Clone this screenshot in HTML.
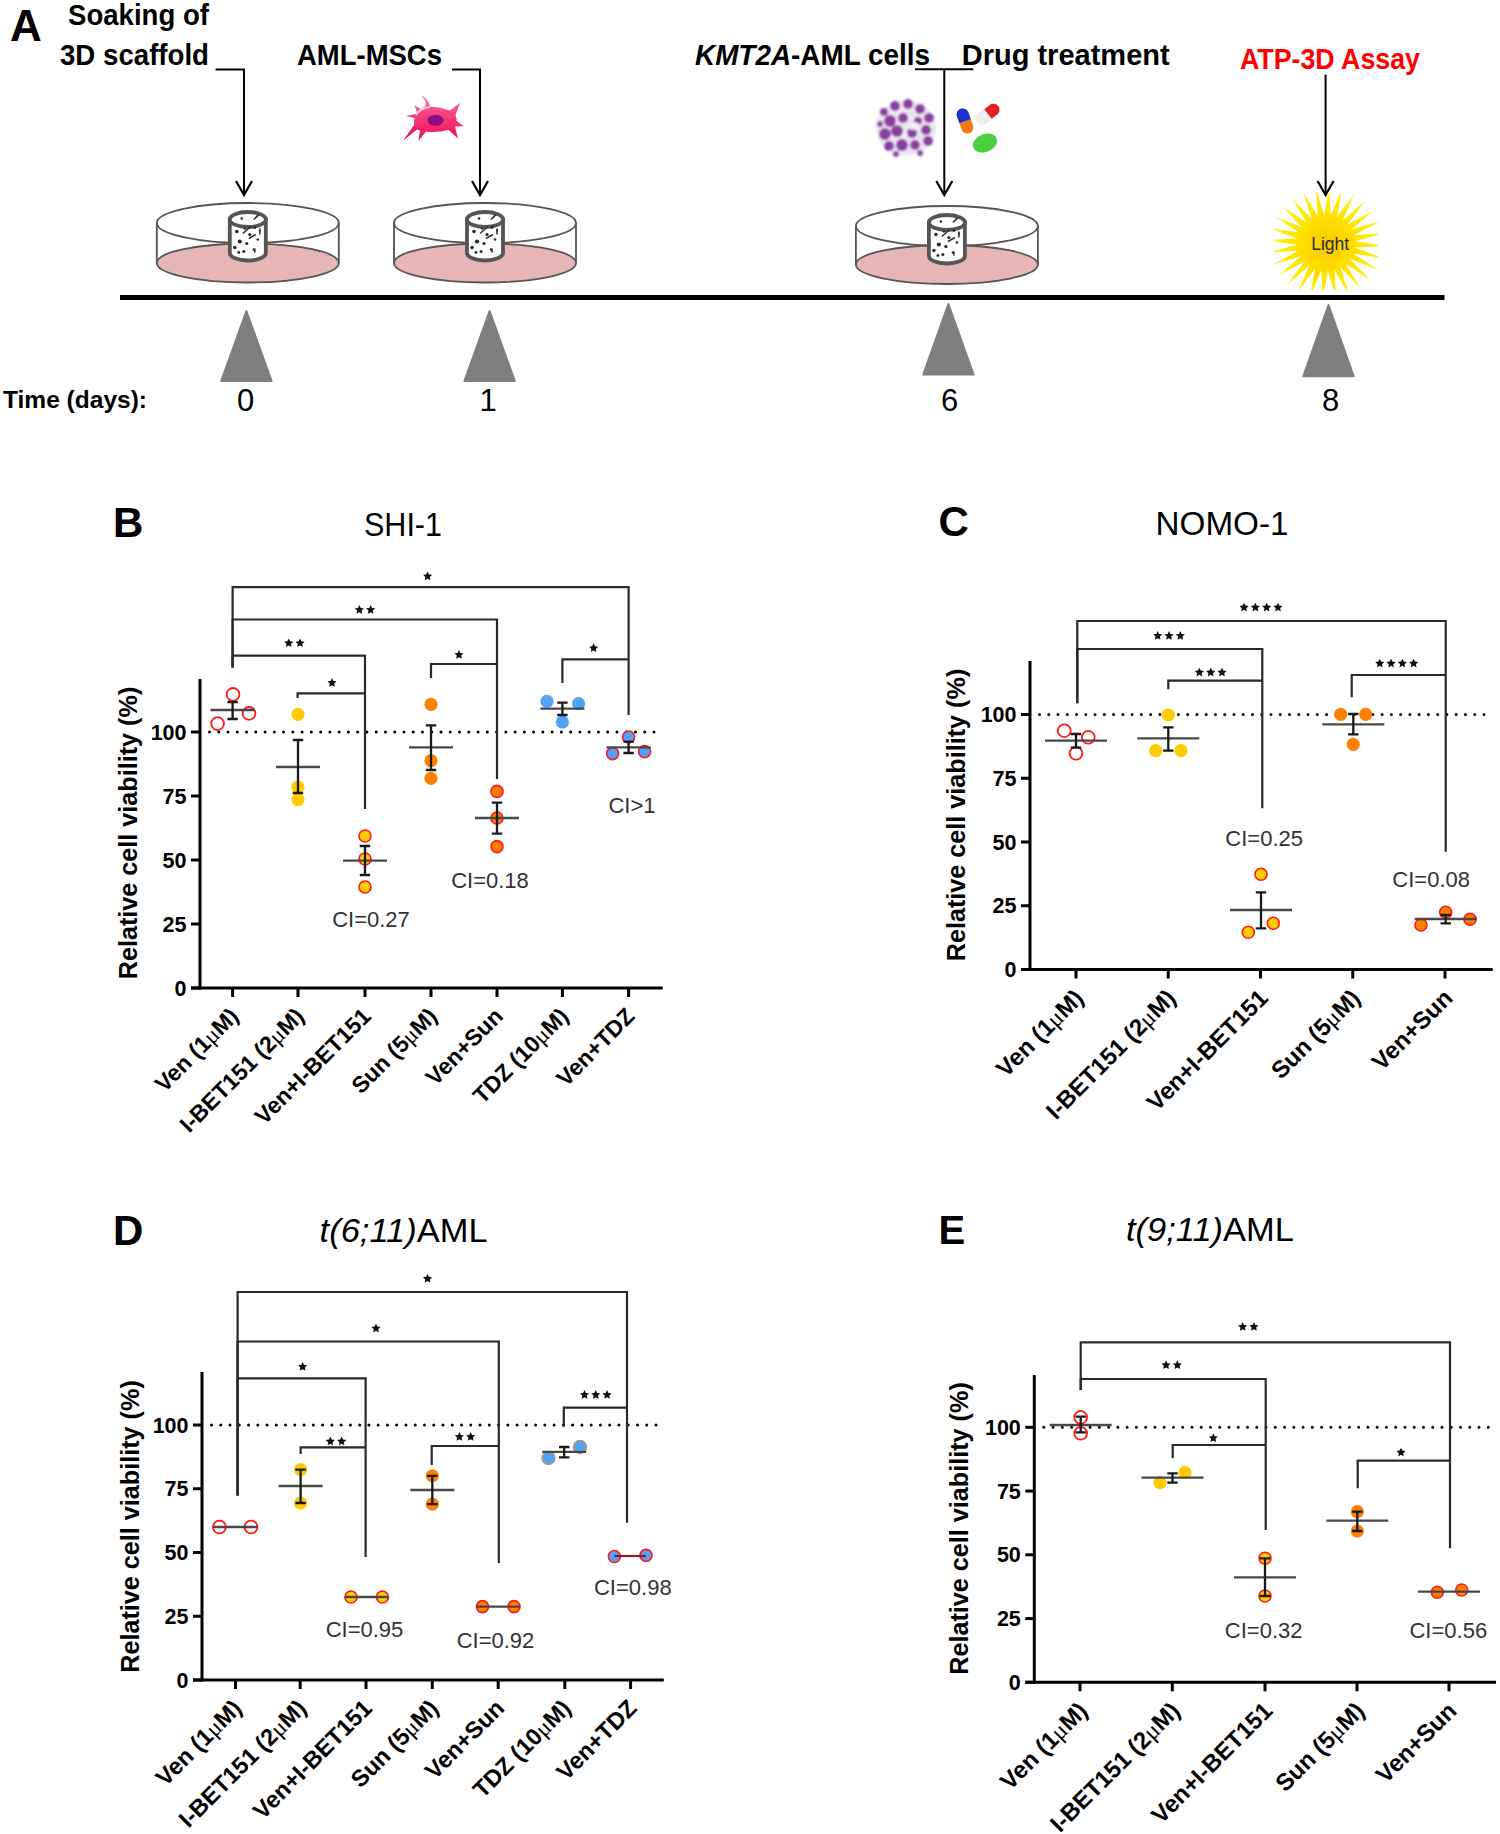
<!DOCTYPE html><html><head><meta charset="utf-8"><style>html,body{margin:0;padding:0;background:#fff;overflow:hidden;width:1500px;height:1834px;}svg{display:block;}</style></head><body>
<svg width="1500" height="1834" viewBox="0 0 1500 1834">
<rect width="1500" height="1834" fill="#fff"/>
<text x="10" y="41" font-family='"Liberation Sans", sans-serif' font-size="44" font-weight="bold" text-anchor="start" fill="#000"  style="">A</text>
<text x="68" y="25" font-family='"Liberation Sans", sans-serif' font-size="29" font-weight="bold" text-anchor="start" fill="#000" textLength="141" lengthAdjust="spacingAndGlyphs" style="">Soaking of</text>
<text x="60" y="65" font-family='"Liberation Sans", sans-serif' font-size="29" font-weight="bold" text-anchor="start" fill="#000" textLength="149" lengthAdjust="spacingAndGlyphs" style="">3D scaffold</text>
<text x="297" y="64.7" font-family='"Liberation Sans", sans-serif' font-size="29" font-weight="bold" text-anchor="start" fill="#000" textLength="145" lengthAdjust="spacingAndGlyphs" style="">AML-MSCs</text>
<text x="695" y="65" font-family='"Liberation Sans", sans-serif' font-size="29" font-weight="bold" textLength="235" lengthAdjust="spacingAndGlyphs"><tspan font-style="italic">KMT2A</tspan>-AML cells</text>
<text x="961.7" y="65" font-family='"Liberation Sans", sans-serif' font-size="29" font-weight="bold" text-anchor="start" fill="#000" textLength="208" lengthAdjust="spacingAndGlyphs" style="">Drug treatment</text>
<text x="1240" y="69.3" font-family='"Liberation Sans", sans-serif' font-size="29" font-weight="bold" text-anchor="start" fill="#ff0000" textLength="180" lengthAdjust="spacingAndGlyphs" style="">ATP-3D Assay</text>
<text x="3" y="408" font-family='"Liberation Sans", sans-serif' font-size="24" font-weight="bold" text-anchor="start" fill="#000" textLength="144" lengthAdjust="spacingAndGlyphs" style="">Time (days):</text>
<text x="245.5" y="411" font-family='"Liberation Sans", sans-serif' font-size="31" font-weight="normal" text-anchor="middle" fill="#000"  style="">0</text>
<text x="488" y="411" font-family='"Liberation Sans", sans-serif' font-size="31" font-weight="normal" text-anchor="middle" fill="#000"  style="">1</text>
<text x="949.5" y="411" font-family='"Liberation Sans", sans-serif' font-size="31" font-weight="normal" text-anchor="middle" fill="#000"  style="">6</text>
<text x="1330.5" y="411" font-family='"Liberation Sans", sans-serif' font-size="31" font-weight="normal" text-anchor="middle" fill="#000"  style="">8</text>
<path d="M215.6,69.5 H244 V194" fill="none" stroke="#000" stroke-width="2"/><path d="M236,181 L244,195 L252,181" fill="none" stroke="#000" stroke-width="2.2"/>
<path d="M452,69.4 H480 V194" fill="none" stroke="#000" stroke-width="2"/><path d="M472,181 L480,195 L488,181" fill="none" stroke="#000" stroke-width="2.2"/>
<path d="M915,69.3 H973.3 M944.3,69.3 V194" fill="none" stroke="#000" stroke-width="2"/><path d="M936.3,181 L944.3,195 L952.3,181" fill="none" stroke="#000" stroke-width="2.2"/>
<path d="M1325.6,74.6 V194" fill="none" stroke="#000" stroke-width="2"/><path d="M1317.6,181 L1325.6,195 L1333.6,181" fill="none" stroke="#000" stroke-width="2.2"/>
<rect x="120" y="295" width="1324.5" height="5" fill="#000"/>
<path d="M246.4,311 L271.6,381 L221.20000000000002,381 Z" fill="#7f7f7f" stroke="#7f7f7f" stroke-width="2" stroke-linejoin="round"/>
<path d="M489.6,311 L514.8000000000001,381 L464.40000000000003,381 Z" fill="#7f7f7f" stroke="#7f7f7f" stroke-width="2" stroke-linejoin="round"/>
<path d="M948.4,304 L973.6,374.5 L923.1999999999999,374.5 Z" fill="#7f7f7f" stroke="#7f7f7f" stroke-width="2" stroke-linejoin="round"/>
<path d="M1328.5,305 L1353.7,376.3 L1303.3,376.3 Z" fill="#7f7f7f" stroke="#7f7f7f" stroke-width="2" stroke-linejoin="round"/>
<ellipse cx="247.8" cy="263" rx="91" ry="19.5" fill="#e6b6b6" stroke="#555" stroke-width="1.8"/><path d="M156.8,223 V263 M338.8,223 V263" stroke="#555" stroke-width="1.8"/><ellipse cx="247.8" cy="223" rx="91" ry="20" fill="none" stroke="#555" stroke-width="1.8"/><path d="M229.8,219.5 V253.0 A18,7.5 0 0 0 265.8,253.0 V219.5 Z" fill="#fff" stroke="#555" stroke-width="3.8"/><ellipse cx="247.8" cy="219.5" rx="18" ry="7.5" fill="#fff" stroke="#555" stroke-width="3.8"/><circle cx="241.8" cy="218.5" r="1.3" fill="#2a2a2a"/><circle cx="256.8" cy="216.5" r="1" fill="#2a2a2a"/><circle cx="236.8" cy="231.5" r="1.8" fill="#2a2a2a"/><circle cx="244.8" cy="228.5" r="1.2" fill="#2a2a2a"/><circle cx="254.8" cy="227.5" r="1.4" fill="#2a2a2a"/><circle cx="239.8" cy="241.5" r="2.1" fill="#2a2a2a"/><circle cx="246.8" cy="243.5" r="1.6" fill="#2a2a2a"/><circle cx="257.8" cy="239.5" r="1.3" fill="#2a2a2a"/><circle cx="234.8" cy="247.5" r="1.8" fill="#2a2a2a"/><circle cx="243.8" cy="251.5" r="1.5" fill="#2a2a2a"/><circle cx="253.8" cy="249.5" r="1.2" fill="#2a2a2a"/><circle cx="249.8" cy="234.5" r="1.6" fill="#2a2a2a"/><circle cx="259.8" cy="230.5" r="1.1" fill="#2a2a2a"/><circle cx="238.8" cy="252.5" r="1.4" fill="#2a2a2a"/><path d="M242.8,233.5 l8,-7 M258.8,214.5 l-5,5 M248.8,238.5 l7,-4 M259.8,228.5 v6 M254.8,248.5 v4" stroke="#333" stroke-width="1.6"/>
<ellipse cx="485" cy="263" rx="91" ry="19.5" fill="#e6b6b6" stroke="#555" stroke-width="1.8"/><path d="M394,223 V263 M576,223 V263" stroke="#555" stroke-width="1.8"/><ellipse cx="485" cy="223" rx="91" ry="20" fill="none" stroke="#555" stroke-width="1.8"/><path d="M467,219.5 V253.0 A18,7.5 0 0 0 503,253.0 V219.5 Z" fill="#fff" stroke="#555" stroke-width="3.8"/><ellipse cx="485" cy="219.5" rx="18" ry="7.5" fill="#fff" stroke="#555" stroke-width="3.8"/><circle cx="479" cy="218.5" r="1.3" fill="#2a2a2a"/><circle cx="494" cy="216.5" r="1" fill="#2a2a2a"/><circle cx="474" cy="231.5" r="1.8" fill="#2a2a2a"/><circle cx="482" cy="228.5" r="1.2" fill="#2a2a2a"/><circle cx="492" cy="227.5" r="1.4" fill="#2a2a2a"/><circle cx="477" cy="241.5" r="2.1" fill="#2a2a2a"/><circle cx="484" cy="243.5" r="1.6" fill="#2a2a2a"/><circle cx="495" cy="239.5" r="1.3" fill="#2a2a2a"/><circle cx="472" cy="247.5" r="1.8" fill="#2a2a2a"/><circle cx="481" cy="251.5" r="1.5" fill="#2a2a2a"/><circle cx="491" cy="249.5" r="1.2" fill="#2a2a2a"/><circle cx="487" cy="234.5" r="1.6" fill="#2a2a2a"/><circle cx="497" cy="230.5" r="1.1" fill="#2a2a2a"/><circle cx="476" cy="252.5" r="1.4" fill="#2a2a2a"/><path d="M480,233.5 l8,-7 M496,214.5 l-5,5 M486,238.5 l7,-4 M497,228.5 v6 M492,248.5 v4" stroke="#333" stroke-width="1.6"/>
<ellipse cx="946.9" cy="264.5" rx="91" ry="19.5" fill="#e6b6b6" stroke="#555" stroke-width="1.8"/><path d="M855.9,226 V264.5 M1037.9,226 V264.5" stroke="#555" stroke-width="1.8"/><ellipse cx="946.9" cy="226" rx="91" ry="20" fill="none" stroke="#555" stroke-width="1.8"/><path d="M928.9,222.5 V256.0 A18,7.5 0 0 0 964.9,256.0 V222.5 Z" fill="#fff" stroke="#555" stroke-width="3.8"/><ellipse cx="946.9" cy="222.5" rx="18" ry="7.5" fill="#fff" stroke="#555" stroke-width="3.8"/><circle cx="940.9" cy="221.5" r="1.3" fill="#2a2a2a"/><circle cx="955.9" cy="219.5" r="1" fill="#2a2a2a"/><circle cx="935.9" cy="234.5" r="1.8" fill="#2a2a2a"/><circle cx="943.9" cy="231.5" r="1.2" fill="#2a2a2a"/><circle cx="953.9" cy="230.5" r="1.4" fill="#2a2a2a"/><circle cx="938.9" cy="244.5" r="2.1" fill="#2a2a2a"/><circle cx="945.9" cy="246.5" r="1.6" fill="#2a2a2a"/><circle cx="956.9" cy="242.5" r="1.3" fill="#2a2a2a"/><circle cx="933.9" cy="250.5" r="1.8" fill="#2a2a2a"/><circle cx="942.9" cy="254.5" r="1.5" fill="#2a2a2a"/><circle cx="952.9" cy="252.5" r="1.2" fill="#2a2a2a"/><circle cx="948.9" cy="237.5" r="1.6" fill="#2a2a2a"/><circle cx="958.9" cy="233.5" r="1.1" fill="#2a2a2a"/><circle cx="937.9" cy="255.5" r="1.4" fill="#2a2a2a"/><path d="M941.9,236.5 l8,-7 M957.9,217.5 l-5,5 M947.9,241.5 l7,-4 M958.9,231.5 v6 M953.9,251.5 v4" stroke="#333" stroke-width="1.6"/>
<defs><linearGradient id="cellg" x1="0" y1="0" x2="0" y2="1"><stop offset="0" stop-color="#ff6aa0"/><stop offset="1" stop-color="#ee0a55"/></linearGradient><filter id="blur0"><feGaussianBlur stdDeviation="0.5"/></filter></defs>
<g filter="url(#blur0)"><path d="M417,112 L414.5,105 L421,109.5 Q425,106 426,105 Q426,99 420,95 Q428,98 430,106.5 Q440,107 450,110.5 L460,102.8 L455.5,115 Q457,119 456.5,121 L464,126.3 L455,126.5 L458,138.5 L448.5,130 Q436,133 426,131.5 L418.5,140.7 L420,130.5 L417,129.5 L403,140.7 L414,125 Q414,120 414.5,118 L406.2,116 L415.5,114 Z" fill="url(#cellg)"/><ellipse cx="435.5" cy="120.3" rx="8" ry="5.6" fill="#8e0a86"/><path d="M416,115 Q420,108 430,107" stroke="#ffd0e4" stroke-width="2" fill="none"/></g>
<defs><filter id="blur1"><feGaussianBlur stdDeviation="1.1"/></filter><radialGradient id="sun" cx="50%" cy="50%" r="50%"><stop offset="0" stop-color="#f5c400"/><stop offset="0.5" stop-color="#ffe000"/><stop offset="1" stop-color="#fff200"/></radialGradient></defs>
<g filter="url(#blur1)"><ellipse cx="906" cy="128" rx="30" ry="28" fill="#ece4f2"/><circle cx="884" cy="112" r="4" fill="#7e3399" fill-opacity="0.92"/><circle cx="895" cy="106" r="5" fill="#7e3399" fill-opacity="0.92"/><circle cx="908" cy="104" r="5" fill="#7e3399" fill-opacity="0.92"/><circle cx="920" cy="109" r="5" fill="#7e3399" fill-opacity="0.92"/><circle cx="929" cy="118" r="5" fill="#7e3399" fill-opacity="0.92"/><circle cx="890" cy="121" r="6" fill="#7e3399" fill-opacity="0.92"/><circle cx="903" cy="118" r="5" fill="#7e3399" fill-opacity="0.92"/><circle cx="918" cy="121" r="4" fill="#7e3399" fill-opacity="0.92"/><circle cx="885" cy="134" r="6" fill="#7e3399" fill-opacity="0.92"/><circle cx="897" cy="131" r="6" fill="#7e3399" fill-opacity="0.92"/><circle cx="912" cy="133" r="5" fill="#7e3399" fill-opacity="0.92"/><circle cx="926" cy="130" r="5" fill="#7e3399" fill-opacity="0.92"/><circle cx="889" cy="146" r="5" fill="#7e3399" fill-opacity="0.92"/><circle cx="902" cy="145" r="6" fill="#7e3399" fill-opacity="0.92"/><circle cx="915" cy="145" r="5" fill="#7e3399" fill-opacity="0.92"/><circle cx="928" cy="141" r="5" fill="#7e3399" fill-opacity="0.92"/><circle cx="896" cy="154" r="3" fill="#7e3399" fill-opacity="0.92"/><circle cx="920" cy="153" r="3" fill="#7e3399" fill-opacity="0.92"/><circle cx="880" cy="124" r="3" fill="#7e3399" fill-opacity="0.92"/><ellipse cx="914" cy="126" rx="6" ry="4" fill="#f2ecf6"/><circle cx="905" cy="135" r="2.5" fill="#f2ecf6"/></g>
<g transform="translate(965,121) rotate(-20)"><rect x="-6" y="-13" width="12" height="26" rx="6" fill="#f07820"/><path d="M-6,0 V-7 A6,6 0 0 1 6,-7 V0 Z" fill="#1a30d0"/></g>
<g transform="translate(988,114) rotate(52)"><rect x="-6" y="-13" width="12" height="26" rx="6" fill="#eeeeee" stroke="#ddd" stroke-width="0.5"/><path d="M-6,0 V-7 A6,6 0 0 1 6,-7 V0 Z" fill="#e02020"/></g>
<ellipse cx="985" cy="143" rx="12.5" ry="9" transform="rotate(-22 985 143)" fill="#4cd040"/>
<defs><clipPath id="sunclip"><rect x="1273" y="192" width="105" height="98"/></clipPath><radialGradient id="sun2" gradientUnits="userSpaceOnUse" cx="1328" cy="245" r="62"><stop offset="0" stop-color="#f8c800"/><stop offset="0.45" stop-color="#ffe000"/><stop offset="0.75" stop-color="#ffee00"/><stop offset="1" stop-color="#fff9c0"/></radialGradient></defs>
<g clip-path="url(#sunclip)"><polygon points="1385.9,245.8 1354.6,247.4 1383.8,258.4 1352.9,253.4 1378.7,270.3 1349.8,258.8 1371.0,280.7 1345.5,263.4 1361.0,289.3 1340.2,267.0 1349.3,295.5 1334.2,269.4 1336.4,299.1 1327.8,270.5 1323.0,299.9 1321.3,270.2 1309.7,297.9 1315.1,268.5 1297.3,293.1 1309.4,265.6 1286.3,285.7 1304.5,261.5 1277.3,276.3 1300.7,256.5 1270.7,265.1 1298.2,250.8 1266.9,252.9 1297.1,244.7 1266.1,240.2 1297.4,238.6 1268.2,227.6 1299.1,232.6 1273.3,215.7 1302.2,227.2 1281.0,205.3 1306.5,222.6 1291.0,196.7 1311.8,219.0 1302.7,190.5 1317.8,216.6 1315.6,186.9 1324.2,215.5 1329.0,186.1 1330.7,215.8 1342.3,188.1 1336.9,217.5 1354.7,192.9 1342.6,220.4 1365.7,200.3 1347.5,224.5 1374.7,209.7 1351.3,229.5 1381.3,220.9 1353.8,235.2 1385.1,233.1 1354.9,241.3" fill="url(#sun2)"/></g>
<text x="1311.2" y="250.2" font-family='"Liberation Sans", sans-serif' font-size="17.5" font-weight="normal" text-anchor="start" fill="#2a2a35" textLength="38" lengthAdjust="spacingAndGlyphs" style="">Light</text>
<text x="113" y="537" font-family='"Liberation Sans", sans-serif' font-size="42" font-weight="bold" text-anchor="start" fill="#000"  style="">B</text>
<text x="403" y="535.6" font-family='"Liberation Sans", sans-serif' font-size="33" font-weight="normal" text-anchor="middle" fill="#000" textLength="78" lengthAdjust="spacingAndGlyphs" style="">SHI-1</text>
<line x1="200" y1="679" x2="200" y2="989.5" stroke="#000" stroke-width="3"/><line x1="191" y1="988" x2="662.7" y2="988" stroke="#000" stroke-width="3"/><line x1="191" y1="988.0" x2="200" y2="988.0" stroke="#000" stroke-width="3"/><text x="186.5" y="995.6" font-family='"Liberation Sans", sans-serif' font-size="21.5" font-weight="bold" text-anchor="end" fill="#000"  style="">0</text><line x1="191" y1="924.0" x2="200" y2="924.0" stroke="#000" stroke-width="3"/><text x="186.5" y="931.6" font-family='"Liberation Sans", sans-serif' font-size="21.5" font-weight="bold" text-anchor="end" fill="#000"  style="">25</text><line x1="191" y1="860.0" x2="200" y2="860.0" stroke="#000" stroke-width="3"/><text x="186.5" y="867.6" font-family='"Liberation Sans", sans-serif' font-size="21.5" font-weight="bold" text-anchor="end" fill="#000"  style="">50</text><line x1="191" y1="796.0" x2="200" y2="796.0" stroke="#000" stroke-width="3"/><text x="186.5" y="803.6" font-family='"Liberation Sans", sans-serif' font-size="21.5" font-weight="bold" text-anchor="end" fill="#000"  style="">75</text><line x1="191" y1="732.0" x2="200" y2="732.0" stroke="#000" stroke-width="3"/><text x="186.5" y="739.6" font-family='"Liberation Sans", sans-serif' font-size="21.5" font-weight="bold" text-anchor="end" fill="#000"  style="">100</text><line x1="232.6" y1="988" x2="232.6" y2="997" stroke="#000" stroke-width="3"/><line x1="298" y1="988" x2="298" y2="997" stroke="#000" stroke-width="3"/><line x1="365" y1="988" x2="365" y2="997" stroke="#000" stroke-width="3"/><line x1="431" y1="988" x2="431" y2="997" stroke="#000" stroke-width="3"/><line x1="497" y1="988" x2="497" y2="997" stroke="#000" stroke-width="3"/><line x1="562.4" y1="988" x2="562.4" y2="997" stroke="#000" stroke-width="3"/><line x1="628.6" y1="988" x2="628.6" y2="997" stroke="#000" stroke-width="3"/><line x1="209.5" y1="732.0" x2="656" y2="732.0" stroke="#000" stroke-width="3" stroke-linecap="round" stroke-dasharray="0 9.26"/><text transform="translate(136.5,833) rotate(-90)" font-family='"Liberation Sans", sans-serif' font-size="25.2" font-weight="bold" text-anchor="middle">Relative cell viability (%)</text><text transform="translate(240.0,1017.6) rotate(-45)" font-family='"Liberation Sans", sans-serif' font-size="23" font-weight="bold" text-anchor="end">Ven (1<tspan font-weight="normal" font-family='"Liberation Serif", serif'>&#956;</tspan>M)</text><text transform="translate(305.4,1017.6) rotate(-45)" font-family='"Liberation Sans", sans-serif' font-size="23" font-weight="bold" text-anchor="end">I-BET151 (2<tspan font-weight="normal" font-family='"Liberation Serif", serif'>&#956;</tspan>M)</text><text transform="translate(372.4,1017.6) rotate(-45)" font-family='"Liberation Sans", sans-serif' font-size="23" font-weight="bold" text-anchor="end">Ven+I-BET151</text><text transform="translate(438.4,1017.6) rotate(-45)" font-family='"Liberation Sans", sans-serif' font-size="23" font-weight="bold" text-anchor="end">Sun (5<tspan font-weight="normal" font-family='"Liberation Serif", serif'>&#956;</tspan>M)</text><text transform="translate(504.4,1017.6) rotate(-45)" font-family='"Liberation Sans", sans-serif' font-size="23" font-weight="bold" text-anchor="end">Ven+Sun</text><text transform="translate(569.8,1017.6) rotate(-45)" font-family='"Liberation Sans", sans-serif' font-size="23" font-weight="bold" text-anchor="end">TDZ (10<tspan font-weight="normal" font-family='"Liberation Serif", serif'>&#956;</tspan>M)</text><text transform="translate(636.0,1017.6) rotate(-45)" font-family='"Liberation Sans", sans-serif' font-size="23" font-weight="bold" text-anchor="end">Ven+TDZ</text>
<path d="M232.6,667.6 V587.2 H628.6 V715" fill="none" stroke="#2a2a2a" stroke-width="2.2"/><polygon points="427.60,571.50 428.98,574.40 432.17,574.82 429.83,577.03 430.42,580.18 427.60,578.65 424.78,580.18 425.37,577.03 423.03,574.82 426.22,574.40" fill="#111"/>
<path d="M232.6,667.6 V619.5 H497 V779" fill="none" stroke="#2a2a2a" stroke-width="2.2"/><polygon points="359.35,605.00 360.73,607.90 363.92,608.32 361.58,610.53 362.17,613.68 359.35,612.15 356.53,613.68 357.12,610.53 354.78,608.32 357.97,607.90" fill="#111"/><polygon points="370.65,605.00 372.03,607.90 375.22,608.32 372.88,610.53 373.47,613.68 370.65,612.15 367.83,613.68 368.42,610.53 366.08,608.32 369.27,607.90" fill="#111"/>
<path d="M232.6,667.6 V655.6 H365 V809" fill="none" stroke="#2a2a2a" stroke-width="2.2"/><polygon points="288.75,638.40 290.13,641.30 293.32,641.72 290.98,643.93 291.57,647.08 288.75,645.55 285.93,647.08 286.52,643.93 284.18,641.72 287.37,641.30" fill="#111"/><polygon points="300.05,638.40 301.43,641.30 304.62,641.72 302.28,643.93 302.87,647.08 300.05,645.55 297.23,647.08 297.82,643.93 295.48,641.72 298.67,641.30" fill="#111"/>
<path d="M297.6,698 V693.3 H365 V693.3" fill="none" stroke="#2a2a2a" stroke-width="2.2"/><polygon points="332.00,678.00 333.38,680.90 336.57,681.32 334.23,683.53 334.82,686.68 332.00,685.15 329.18,686.68 329.77,683.53 327.43,681.32 330.62,680.90" fill="#111"/>
<path d="M431,678 V664 H497 V664" fill="none" stroke="#2a2a2a" stroke-width="2.2"/><polygon points="459.00,650.00 460.38,652.90 463.57,653.32 461.23,655.53 461.82,658.68 459.00,657.15 456.18,658.68 456.77,655.53 454.43,653.32 457.62,652.90" fill="#111"/>
<path d="M562.4,683 V659.4 H628.6 V659.4" fill="none" stroke="#2a2a2a" stroke-width="2.2"/><polygon points="593.60,643.40 594.98,646.30 598.17,646.72 595.83,648.93 596.42,652.08 593.60,650.55 590.78,652.08 591.37,648.93 589.03,646.72 592.22,646.30" fill="#111"/>
<circle cx="217.6" cy="723.6" r="6.4" fill="none" stroke="#ff1a1a" stroke-width="1.8"/>
<circle cx="233" cy="694.4" r="6.4" fill="none" stroke="#ff1a1a" stroke-width="1.8"/>
<circle cx="249" cy="713.4" r="6.4" fill="none" stroke="#ff1a1a" stroke-width="1.8"/>
<line x1="210.6" y1="710" x2="254.6" y2="710" stroke="#484848" stroke-width="2.3"/><path d="M232.6,702 V719 M227.4,702 H237.79999999999998 M227.4,719 H237.79999999999998" fill="none" stroke="#1a1a1a" stroke-width="2.3"/>
<circle cx="298" cy="714.4" r="6.6" fill="#ffcc00"/>
<circle cx="298" cy="787" r="6.6" fill="#ffcc00"/>
<circle cx="298" cy="799.6" r="6.6" fill="#ffcc00"/>
<line x1="276.0" y1="767" x2="320.0" y2="767" stroke="#484848" stroke-width="2.3"/><path d="M298,740 V793 M292.8,740 H303.2 M292.8,793 H303.2" fill="none" stroke="#1a1a1a" stroke-width="2.3"/>
<circle cx="365" cy="836" r="6" fill="#ffcc00" stroke="#ff1a1a" stroke-width="1.6"/>
<circle cx="365" cy="859" r="6" fill="#ffcc00" stroke="#ff1a1a" stroke-width="1.6"/>
<circle cx="365" cy="887" r="6" fill="#ffcc00" stroke="#ff1a1a" stroke-width="1.6"/>
<line x1="343.0" y1="860.6" x2="387.0" y2="860.6" stroke="#484848" stroke-width="2.3"/><path d="M365,846 V875 M359.8,846 H370.2 M359.8,875 H370.2" fill="none" stroke="#1a1a1a" stroke-width="2.3"/>
<circle cx="431" cy="704.4" r="6.6" fill="#ff8000"/>
<circle cx="431" cy="760.6" r="6.6" fill="#ff8000"/>
<circle cx="431" cy="778.4" r="6.6" fill="#ff8000"/>
<line x1="409.0" y1="747.4" x2="453.0" y2="747.4" stroke="#484848" stroke-width="2.3"/><path d="M431,725.4 V770 M425.8,725.4 H436.2 M425.8,770 H436.2" fill="none" stroke="#1a1a1a" stroke-width="2.3"/>
<circle cx="497" cy="791.4" r="6" fill="#ff8000" stroke="#ff1a1a" stroke-width="1.6"/>
<circle cx="497" cy="818" r="6" fill="#ff8000" stroke="#ff1a1a" stroke-width="1.6"/>
<circle cx="497" cy="846.6" r="6" fill="#ff8000" stroke="#ff1a1a" stroke-width="1.6"/>
<line x1="475.0" y1="818" x2="519.0" y2="818" stroke="#484848" stroke-width="2.3"/><path d="M497,802.6 V833.6 M491.8,802.6 H502.2 M491.8,833.6 H502.2" fill="none" stroke="#1a1a1a" stroke-width="2.3"/>
<circle cx="547" cy="701.4" r="6.6" fill="#54a2f8"/>
<circle cx="578.6" cy="703.6" r="6.6" fill="#54a2f8"/>
<circle cx="562.4" cy="722" r="6.6" fill="#54a2f8"/>
<line x1="540.4" y1="708.6" x2="584.4" y2="708.6" stroke="#484848" stroke-width="2.3"/><path d="M562.4,702.6 V715 M557.1999999999999,702.6 H567.6 M557.1999999999999,715 H567.6" fill="none" stroke="#1a1a1a" stroke-width="2.3"/>
<circle cx="628.6" cy="737" r="6" fill="#54a2f8" stroke="#ff1a1a" stroke-width="1.6"/>
<circle cx="612.6" cy="753.6" r="6" fill="#54a2f8" stroke="#ff1a1a" stroke-width="1.6"/>
<circle cx="644.6" cy="751.6" r="6" fill="#54a2f8" stroke="#ff1a1a" stroke-width="1.6"/>
<line x1="606.6" y1="747.4" x2="650.6" y2="747.4" stroke="#484848" stroke-width="2.3"/><path d="M628.6,741.6 V753 M623.4,741.6 H633.8000000000001 M623.4,753 H633.8000000000001" fill="none" stroke="#1a1a1a" stroke-width="2.3"/>
<text x="371" y="927" font-family='"Liberation Sans", sans-serif' font-size="22" font-weight="normal" text-anchor="middle" fill="#333"  style="">CI=0.27</text>
<text x="490" y="888" font-family='"Liberation Sans", sans-serif' font-size="22" font-weight="normal" text-anchor="middle" fill="#333"  style="">CI=0.18</text>
<text x="632" y="813" font-family='"Liberation Sans", sans-serif' font-size="22" font-weight="normal" text-anchor="middle" fill="#333"  style="">CI&gt;1</text>
<text x="938.5" y="536.4" font-family='"Liberation Sans", sans-serif' font-size="42" font-weight="bold" text-anchor="start" fill="#000"  style="">C</text>
<text x="1222" y="535" font-family='"Liberation Sans", sans-serif' font-size="33" font-weight="normal" text-anchor="middle" fill="#000" textLength="133" lengthAdjust="spacingAndGlyphs" style="">NOMO-1</text>
<line x1="1030" y1="661" x2="1030" y2="971.0" stroke="#000" stroke-width="3"/><line x1="1021" y1="969.5" x2="1492.7" y2="969.5" stroke="#000" stroke-width="3"/><line x1="1021" y1="969.5" x2="1030" y2="969.5" stroke="#000" stroke-width="3"/><text x="1016.5" y="977.1" font-family='"Liberation Sans", sans-serif' font-size="21.5" font-weight="bold" text-anchor="end" fill="#000"  style="">0</text><line x1="1021" y1="905.75" x2="1030" y2="905.75" stroke="#000" stroke-width="3"/><text x="1016.5" y="913.35" font-family='"Liberation Sans", sans-serif' font-size="21.5" font-weight="bold" text-anchor="end" fill="#000"  style="">25</text><line x1="1021" y1="842.0" x2="1030" y2="842.0" stroke="#000" stroke-width="3"/><text x="1016.5" y="849.6" font-family='"Liberation Sans", sans-serif' font-size="21.5" font-weight="bold" text-anchor="end" fill="#000"  style="">50</text><line x1="1021" y1="778.25" x2="1030" y2="778.25" stroke="#000" stroke-width="3"/><text x="1016.5" y="785.85" font-family='"Liberation Sans", sans-serif' font-size="21.5" font-weight="bold" text-anchor="end" fill="#000"  style="">75</text><line x1="1021" y1="714.5" x2="1030" y2="714.5" stroke="#000" stroke-width="3"/><text x="1016.5" y="722.1" font-family='"Liberation Sans", sans-serif' font-size="21.5" font-weight="bold" text-anchor="end" fill="#000"  style="">100</text><line x1="1076" y1="969.5" x2="1076" y2="978.5" stroke="#000" stroke-width="3"/><line x1="1168.25" y1="969.5" x2="1168.25" y2="978.5" stroke="#000" stroke-width="3"/><line x1="1260.5" y1="969.5" x2="1260.5" y2="978.5" stroke="#000" stroke-width="3"/><line x1="1352.75" y1="969.5" x2="1352.75" y2="978.5" stroke="#000" stroke-width="3"/><line x1="1445" y1="969.5" x2="1445" y2="978.5" stroke="#000" stroke-width="3"/><line x1="1039.5" y1="714.5" x2="1486" y2="714.5" stroke="#000" stroke-width="3" stroke-linecap="round" stroke-dasharray="0 9.26"/><text transform="translate(964.5,815) rotate(-90)" font-family='"Liberation Sans", sans-serif' font-size="25.2" font-weight="bold" text-anchor="middle">Relative cell viability (%)</text><text transform="translate(1085,999.5) rotate(-45)" font-family='"Liberation Sans", sans-serif' font-size="24" font-weight="bold" text-anchor="end">Ven (1<tspan font-weight="normal" font-family='"Liberation Serif", serif'>&#956;</tspan>M)</text><text transform="translate(1177.25,999.5) rotate(-45)" font-family='"Liberation Sans", sans-serif' font-size="24" font-weight="bold" text-anchor="end">I-BET151 (2<tspan font-weight="normal" font-family='"Liberation Serif", serif'>&#956;</tspan>M)</text><text transform="translate(1269.5,999.5) rotate(-45)" font-family='"Liberation Sans", sans-serif' font-size="24" font-weight="bold" text-anchor="end">Ven+I-BET151</text><text transform="translate(1361.75,999.5) rotate(-45)" font-family='"Liberation Sans", sans-serif' font-size="24" font-weight="bold" text-anchor="end">Sun (5<tspan font-weight="normal" font-family='"Liberation Serif", serif'>&#956;</tspan>M)</text><text transform="translate(1454,999.5) rotate(-45)" font-family='"Liberation Sans", sans-serif' font-size="24" font-weight="bold" text-anchor="end">Ven+Sun</text>
<path d="M1077.3,703.3 V621 H1445.7 V851.7" fill="none" stroke="#2a2a2a" stroke-width="2.2"/><polygon points="1244.05,602.70 1245.43,605.60 1248.62,606.02 1246.28,608.23 1246.87,611.38 1244.05,609.85 1241.23,611.38 1241.82,608.23 1239.48,606.02 1242.67,605.60" fill="#111"/><polygon points="1255.35,602.70 1256.73,605.60 1259.92,606.02 1257.58,608.23 1258.17,611.38 1255.35,609.85 1252.53,611.38 1253.12,608.23 1250.78,606.02 1253.97,605.60" fill="#111"/><polygon points="1266.65,602.70 1268.03,605.60 1271.22,606.02 1268.88,608.23 1269.47,611.38 1266.65,609.85 1263.83,611.38 1264.42,608.23 1262.08,606.02 1265.27,605.60" fill="#111"/><polygon points="1277.95,602.70 1279.33,605.60 1282.52,606.02 1280.18,608.23 1280.77,611.38 1277.95,609.85 1275.13,611.38 1275.72,608.23 1273.38,606.02 1276.57,605.60" fill="#111"/>
<path d="M1077.3,703.3 V649 H1262.3 V808.3" fill="none" stroke="#2a2a2a" stroke-width="2.2"/><polygon points="1157.70,631.00 1159.08,633.90 1162.27,634.32 1159.93,636.53 1160.52,639.68 1157.70,638.15 1154.88,639.68 1155.47,636.53 1153.13,634.32 1156.32,633.90" fill="#111"/><polygon points="1169.00,631.00 1170.38,633.90 1173.57,634.32 1171.23,636.53 1171.82,639.68 1169.00,638.15 1166.18,639.68 1166.77,636.53 1164.43,634.32 1167.62,633.90" fill="#111"/><polygon points="1180.30,631.00 1181.68,633.90 1184.87,634.32 1182.53,636.53 1183.12,639.68 1180.30,638.15 1177.48,639.68 1178.07,636.53 1175.73,634.32 1178.92,633.90" fill="#111"/>
<path d="M1168.3,689.3 V680.7 H1262.3 V680.7" fill="none" stroke="#2a2a2a" stroke-width="2.2"/><polygon points="1199.40,667.70 1200.78,670.60 1203.97,671.02 1201.63,673.23 1202.22,676.38 1199.40,674.85 1196.58,676.38 1197.17,673.23 1194.83,671.02 1198.02,670.60" fill="#111"/><polygon points="1210.70,667.70 1212.08,670.60 1215.27,671.02 1212.93,673.23 1213.52,676.38 1210.70,674.85 1207.88,676.38 1208.47,673.23 1206.13,671.02 1209.32,670.60" fill="#111"/><polygon points="1222.00,667.70 1223.38,670.60 1226.57,671.02 1224.23,673.23 1224.82,676.38 1222.00,674.85 1219.18,676.38 1219.77,673.23 1217.43,671.02 1220.62,670.60" fill="#111"/>
<path d="M1351.7,697.3 V675 H1445.7 V675" fill="none" stroke="#2a2a2a" stroke-width="2.2"/><polygon points="1379.75,658.70 1381.13,661.60 1384.32,662.02 1381.98,664.23 1382.57,667.38 1379.75,665.85 1376.93,667.38 1377.52,664.23 1375.18,662.02 1378.37,661.60" fill="#111"/><polygon points="1391.05,658.70 1392.43,661.60 1395.62,662.02 1393.28,664.23 1393.87,667.38 1391.05,665.85 1388.23,667.38 1388.82,664.23 1386.48,662.02 1389.67,661.60" fill="#111"/><polygon points="1402.35,658.70 1403.73,661.60 1406.92,662.02 1404.58,664.23 1405.17,667.38 1402.35,665.85 1399.53,667.38 1400.12,664.23 1397.78,662.02 1400.97,661.60" fill="#111"/><polygon points="1413.65,658.70 1415.03,661.60 1418.22,662.02 1415.88,664.23 1416.47,667.38 1413.65,665.85 1410.83,667.38 1411.42,664.23 1409.08,662.02 1412.27,661.60" fill="#111"/>
<circle cx="1064.3" cy="730.7" r="6.4" fill="none" stroke="#ff1a1a" stroke-width="1.8"/>
<circle cx="1088.3" cy="737.3" r="6.4" fill="none" stroke="#ff1a1a" stroke-width="1.8"/>
<circle cx="1076" cy="753.3" r="6.4" fill="none" stroke="#ff1a1a" stroke-width="1.8"/>
<line x1="1045.0" y1="740.7" x2="1107.0" y2="740.7" stroke="#484848" stroke-width="2.3"/><path d="M1076,734 V747.7 M1070.8,734 H1081.2 M1070.8,747.7 H1081.2" fill="none" stroke="#1a1a1a" stroke-width="2.3"/>
<circle cx="1168.3" cy="715" r="6.6" fill="#ffcc00"/>
<circle cx="1155.7" cy="750.7" r="6.6" fill="#ffcc00"/>
<circle cx="1181" cy="750.7" r="6.6" fill="#ffcc00"/>
<line x1="1137.3" y1="738.3" x2="1199.3" y2="738.3" stroke="#484848" stroke-width="2.3"/><path d="M1168.3,727.3 V750.7 M1163.1,727.3 H1173.5 M1163.1,750.7 H1173.5" fill="none" stroke="#1a1a1a" stroke-width="2.3"/>
<circle cx="1261" cy="874.3" r="6" fill="#ffcc00" stroke="#ff1a1a" stroke-width="1.6"/>
<circle cx="1248.3" cy="932.3" r="6" fill="#ffcc00" stroke="#ff1a1a" stroke-width="1.6"/>
<circle cx="1273.3" cy="923.3" r="6" fill="#ffcc00" stroke="#ff1a1a" stroke-width="1.6"/>
<line x1="1230.0" y1="910" x2="1292.0" y2="910" stroke="#484848" stroke-width="2.3"/><path d="M1261,892.3 V928.3 M1255.8,892.3 H1266.2 M1255.8,928.3 H1266.2" fill="none" stroke="#1a1a1a" stroke-width="2.3"/>
<circle cx="1340.7" cy="714.3" r="6.6" fill="#ff8000"/>
<circle cx="1365.7" cy="714.3" r="6.6" fill="#ff8000"/>
<circle cx="1353.3" cy="744.3" r="6.6" fill="#ff8000"/>
<line x1="1322.3" y1="724.3" x2="1384.3" y2="724.3" stroke="#484848" stroke-width="2.3"/><path d="M1353.3,714 V734.3 M1348.1,714 H1358.5 M1348.1,734.3 H1358.5" fill="none" stroke="#1a1a1a" stroke-width="2.3"/>
<circle cx="1421" cy="925" r="6" fill="#ff8000" stroke="#ff1a1a" stroke-width="1.6"/>
<circle cx="1445.7" cy="912.3" r="6" fill="#ff8000" stroke="#ff1a1a" stroke-width="1.6"/>
<circle cx="1470" cy="919.3" r="6" fill="#ff8000" stroke="#ff1a1a" stroke-width="1.6"/>
<line x1="1414.7" y1="919" x2="1476.7" y2="919" stroke="#484848" stroke-width="2.3"/><path d="M1445.7,915 V923.3 M1440.5,915 H1450.9 M1440.5,923.3 H1450.9" fill="none" stroke="#1a1a1a" stroke-width="2.3"/>
<text x="1264.2" y="845.7" font-family='"Liberation Sans", sans-serif' font-size="22" font-weight="normal" text-anchor="middle" fill="#333"  style="">CI=0.25</text>
<text x="1431.2" y="887.3" font-family='"Liberation Sans", sans-serif' font-size="22" font-weight="normal" text-anchor="middle" fill="#333"  style="">CI=0.08</text>
<text x="113" y="1245" font-family='"Liberation Sans", sans-serif' font-size="42" font-weight="bold" text-anchor="start" fill="#000"  style="">D</text>
<text x="319.6" y="1242" font-family='"Liberation Sans", sans-serif' font-size="34" fill="#000" textLength="168" lengthAdjust="spacingAndGlyphs"><tspan font-style="italic">t(6;11)</tspan>AML</text>
<line x1="202" y1="1372" x2="202" y2="1681.5" stroke="#000" stroke-width="3"/><line x1="193" y1="1680" x2="663.8" y2="1680" stroke="#000" stroke-width="3"/><line x1="193" y1="1680.0" x2="202" y2="1680.0" stroke="#000" stroke-width="3"/><text x="188.5" y="1687.6" font-family='"Liberation Sans", sans-serif' font-size="21.5" font-weight="bold" text-anchor="end" fill="#000"  style="">0</text><line x1="193" y1="1616.25" x2="202" y2="1616.25" stroke="#000" stroke-width="3"/><text x="188.5" y="1623.85" font-family='"Liberation Sans", sans-serif' font-size="21.5" font-weight="bold" text-anchor="end" fill="#000"  style="">25</text><line x1="193" y1="1552.5" x2="202" y2="1552.5" stroke="#000" stroke-width="3"/><text x="188.5" y="1560.1" font-family='"Liberation Sans", sans-serif' font-size="21.5" font-weight="bold" text-anchor="end" fill="#000"  style="">50</text><line x1="193" y1="1488.75" x2="202" y2="1488.75" stroke="#000" stroke-width="3"/><text x="188.5" y="1496.35" font-family='"Liberation Sans", sans-serif' font-size="21.5" font-weight="bold" text-anchor="end" fill="#000"  style="">75</text><line x1="193" y1="1425.0" x2="202" y2="1425.0" stroke="#000" stroke-width="3"/><text x="188.5" y="1432.6" font-family='"Liberation Sans", sans-serif' font-size="21.5" font-weight="bold" text-anchor="end" fill="#000"  style="">100</text><line x1="235.5" y1="1680" x2="235.5" y2="1689" stroke="#000" stroke-width="3"/><line x1="300.2" y1="1680" x2="300.2" y2="1689" stroke="#000" stroke-width="3"/><line x1="366" y1="1680" x2="366" y2="1689" stroke="#000" stroke-width="3"/><line x1="432.3" y1="1680" x2="432.3" y2="1689" stroke="#000" stroke-width="3"/><line x1="498.2" y1="1680" x2="498.2" y2="1689" stroke="#000" stroke-width="3"/><line x1="564.8" y1="1680" x2="564.8" y2="1689" stroke="#000" stroke-width="3"/><line x1="630.6" y1="1680" x2="630.6" y2="1689" stroke="#000" stroke-width="3"/><line x1="211.5" y1="1425.0" x2="656.8" y2="1425.0" stroke="#000" stroke-width="3" stroke-linecap="round" stroke-dasharray="0 9.26"/><text transform="translate(138.5,1526.5) rotate(-90)" font-family='"Liberation Sans", sans-serif' font-size="25.2" font-weight="bold" text-anchor="middle">Relative cell viability (%)</text><text transform="translate(243.1,1709.6) rotate(-45)" font-family='"Liberation Sans", sans-serif' font-size="23.6" font-weight="bold" text-anchor="end">Ven (1<tspan font-weight="normal" font-family='"Liberation Serif", serif'>&#956;</tspan>M)</text><text transform="translate(307.8,1709.6) rotate(-45)" font-family='"Liberation Sans", sans-serif' font-size="23.6" font-weight="bold" text-anchor="end">I-BET151 (2<tspan font-weight="normal" font-family='"Liberation Serif", serif'>&#956;</tspan>M)</text><text transform="translate(373.6,1709.6) rotate(-45)" font-family='"Liberation Sans", sans-serif' font-size="23.6" font-weight="bold" text-anchor="end">Ven+I-BET151</text><text transform="translate(439.90000000000003,1709.6) rotate(-45)" font-family='"Liberation Sans", sans-serif' font-size="23.6" font-weight="bold" text-anchor="end">Sun (5<tspan font-weight="normal" font-family='"Liberation Serif", serif'>&#956;</tspan>M)</text><text transform="translate(505.8,1709.6) rotate(-45)" font-family='"Liberation Sans", sans-serif' font-size="23.6" font-weight="bold" text-anchor="end">Ven+Sun</text><text transform="translate(572.4,1709.6) rotate(-45)" font-family='"Liberation Sans", sans-serif' font-size="23.6" font-weight="bold" text-anchor="end">TDZ (10<tspan font-weight="normal" font-family='"Liberation Serif", serif'>&#956;</tspan>M)</text><text transform="translate(638.2,1709.6) rotate(-45)" font-family='"Liberation Sans", sans-serif' font-size="23.6" font-weight="bold" text-anchor="end">Ven+TDZ</text>
<path d="M237.6,1495.6 V1292 H627 V1522.7" fill="none" stroke="#2a2a2a" stroke-width="2.2"/><polygon points="427.50,1273.90 428.88,1276.80 432.07,1277.22 429.73,1279.43 430.32,1282.58 427.50,1281.05 424.68,1282.58 425.27,1279.43 422.93,1277.22 426.12,1276.80" fill="#111"/>
<path d="M237.6,1495.6 V1341.5 H498.8 V1563" fill="none" stroke="#2a2a2a" stroke-width="2.2"/><polygon points="376.00,1323.70 377.38,1326.60 380.57,1327.02 378.23,1329.23 378.82,1332.38 376.00,1330.85 373.18,1332.38 373.77,1329.23 371.43,1327.02 374.62,1326.60" fill="#111"/>
<path d="M237.6,1495.6 V1378.4 H365.6 V1557" fill="none" stroke="#2a2a2a" stroke-width="2.2"/><polygon points="302.60,1362.00 303.98,1364.90 307.17,1365.32 304.83,1367.53 305.42,1370.68 302.60,1369.15 299.78,1370.68 300.37,1367.53 298.03,1365.32 301.22,1364.90" fill="#111"/>
<path d="M300.6,1454 V1447.4 H365.6 V1447.4" fill="none" stroke="#2a2a2a" stroke-width="2.2"/><polygon points="330.35,1436.60 331.73,1439.50 334.92,1439.92 332.58,1442.13 333.17,1445.28 330.35,1443.75 327.53,1445.28 328.12,1442.13 325.78,1439.92 328.97,1439.50" fill="#111"/><polygon points="341.65,1436.60 343.03,1439.50 346.22,1439.92 343.88,1442.13 344.47,1445.28 341.65,1443.75 338.83,1445.28 339.42,1442.13 337.08,1439.92 340.27,1439.50" fill="#111"/>
<path d="M431.7,1465 V1446 H498.8 V1446" fill="none" stroke="#2a2a2a" stroke-width="2.2"/><polygon points="459.35,1432.00 460.73,1434.90 463.92,1435.32 461.58,1437.53 462.17,1440.68 459.35,1439.15 456.53,1440.68 457.12,1437.53 454.78,1435.32 457.97,1434.90" fill="#111"/><polygon points="470.65,1432.00 472.03,1434.90 475.22,1435.32 472.88,1437.53 473.47,1440.68 470.65,1439.15 467.83,1440.68 468.42,1437.53 466.08,1435.32 469.27,1434.90" fill="#111"/>
<path d="M563.8,1426.8 V1407.6 H627 V1407.6" fill="none" stroke="#2a2a2a" stroke-width="2.2"/><polygon points="584.50,1390.00 585.88,1392.90 589.07,1393.32 586.73,1395.53 587.32,1398.68 584.50,1397.15 581.68,1398.68 582.27,1395.53 579.93,1393.32 583.12,1392.90" fill="#111"/><polygon points="595.80,1390.00 597.18,1392.90 600.37,1393.32 598.03,1395.53 598.62,1398.68 595.80,1397.15 592.98,1398.68 593.57,1395.53 591.23,1393.32 594.42,1392.90" fill="#111"/><polygon points="607.10,1390.00 608.48,1392.90 611.67,1393.32 609.33,1395.53 609.92,1398.68 607.10,1397.15 604.28,1398.68 604.87,1395.53 602.53,1393.32 605.72,1392.90" fill="#111"/>
<circle cx="219.4" cy="1527" r="6.4" fill="none" stroke="#ff1a1a" stroke-width="1.8"/>
<circle cx="251" cy="1527" r="6.4" fill="none" stroke="#ff1a1a" stroke-width="1.8"/>
<line x1="213.2" y1="1527" x2="257.2" y2="1527" stroke="#484848" stroke-width="2.3"/>
<circle cx="300.6" cy="1469.6" r="6.6" fill="#ffcc00"/>
<circle cx="300.6" cy="1503" r="6.6" fill="#ffcc00"/>
<line x1="278.6" y1="1486" x2="322.6" y2="1486" stroke="#484848" stroke-width="2.3"/><path d="M300.6,1469.6 V1503 M295.40000000000003,1469.6 H305.8 M295.40000000000003,1503 H305.8" fill="none" stroke="#1a1a1a" stroke-width="2.3"/>
<circle cx="351" cy="1597" r="6" fill="#ffcc00" stroke="#ff1a1a" stroke-width="1.6"/>
<circle cx="382.4" cy="1597" r="6" fill="#ffcc00" stroke="#ff1a1a" stroke-width="1.6"/>
<line x1="344.7" y1="1597" x2="388.7" y2="1597" stroke="#484848" stroke-width="2.3"/>
<circle cx="432.3" cy="1475.8" r="6.6" fill="#ff8000"/>
<circle cx="432.3" cy="1504.2" r="6.6" fill="#ff8000"/>
<line x1="410.3" y1="1490" x2="454.3" y2="1490" stroke="#484848" stroke-width="2.3"/><path d="M432.3,1475.8 V1504.2 M427.1,1475.8 H437.5 M427.1,1504.2 H437.5" fill="none" stroke="#1a1a1a" stroke-width="2.3"/>
<circle cx="482.5" cy="1606.6" r="6" fill="#ff8000" stroke="#ff1a1a" stroke-width="1.6"/>
<circle cx="514" cy="1606.6" r="6" fill="#ff8000" stroke="#ff1a1a" stroke-width="1.6"/>
<line x1="476.2" y1="1606.6" x2="520.2" y2="1606.6" stroke="#484848" stroke-width="2.3"/>
<circle cx="548.5" cy="1458" r="6.2" fill="#54a2f8" stroke="#999" stroke-width="2"/>
<circle cx="580" cy="1447" r="6.2" fill="#54a2f8" stroke="#999" stroke-width="2"/>
<line x1="542.2" y1="1451.8" x2="586.2" y2="1451.8" stroke="#484848" stroke-width="2.3"/><path d="M564.2,1447 V1457.3 M559.0,1447 H569.4000000000001 M559.0,1457.3 H569.4000000000001" fill="none" stroke="#1a1a1a" stroke-width="2.3"/>
<circle cx="614.4" cy="1556.5" r="6" fill="#54a2f8" stroke="#ff1a1a" stroke-width="1.6"/>
<circle cx="646" cy="1555.4" r="6" fill="#54a2f8" stroke="#ff1a1a" stroke-width="1.6"/>
<line x1="614.4" y1="1556" x2="646" y2="1556" stroke="#8a1a2a" stroke-width="2.2"/>
<text x="364.5" y="1637" font-family='"Liberation Sans", sans-serif' font-size="22" font-weight="normal" text-anchor="middle" fill="#333"  style="">CI=0.95</text>
<text x="495.5" y="1648" font-family='"Liberation Sans", sans-serif' font-size="22" font-weight="normal" text-anchor="middle" fill="#333"  style="">CI=0.92</text>
<text x="632.8" y="1594.6" font-family='"Liberation Sans", sans-serif' font-size="22" font-weight="normal" text-anchor="middle" fill="#333"  style="">CI=0.98</text>
<text x="938.5" y="1244" font-family='"Liberation Sans", sans-serif' font-size="40" font-weight="bold" text-anchor="start" fill="#000"  style="">E</text>
<text x="1126" y="1241.3" font-family='"Liberation Sans", sans-serif' font-size="34" fill="#000" textLength="168" lengthAdjust="spacingAndGlyphs"><tspan font-style="italic">t(9;11)</tspan>AML</text>
<line x1="1034.3" y1="1375" x2="1034.3" y2="1683.8" stroke="#000" stroke-width="3"/><line x1="1025.3" y1="1682.3" x2="1496" y2="1682.3" stroke="#000" stroke-width="3"/><line x1="1025.3" y1="1682.3" x2="1034.3" y2="1682.3" stroke="#000" stroke-width="3"/><text x="1020.8" y="1689.8999999999999" font-family='"Liberation Sans", sans-serif' font-size="21.5" font-weight="bold" text-anchor="end" fill="#000"  style="">0</text><line x1="1025.3" y1="1618.55" x2="1034.3" y2="1618.55" stroke="#000" stroke-width="3"/><text x="1020.8" y="1626.1499999999999" font-family='"Liberation Sans", sans-serif' font-size="21.5" font-weight="bold" text-anchor="end" fill="#000"  style="">25</text><line x1="1025.3" y1="1554.8" x2="1034.3" y2="1554.8" stroke="#000" stroke-width="3"/><text x="1020.8" y="1562.3999999999999" font-family='"Liberation Sans", sans-serif' font-size="21.5" font-weight="bold" text-anchor="end" fill="#000"  style="">50</text><line x1="1025.3" y1="1491.05" x2="1034.3" y2="1491.05" stroke="#000" stroke-width="3"/><text x="1020.8" y="1498.6499999999999" font-family='"Liberation Sans", sans-serif' font-size="21.5" font-weight="bold" text-anchor="end" fill="#000"  style="">75</text><line x1="1025.3" y1="1427.3" x2="1034.3" y2="1427.3" stroke="#000" stroke-width="3"/><text x="1020.8" y="1434.8999999999999" font-family='"Liberation Sans", sans-serif' font-size="21.5" font-weight="bold" text-anchor="end" fill="#000"  style="">100</text><line x1="1080" y1="1682.3" x2="1080" y2="1691.3" stroke="#000" stroke-width="3"/><line x1="1172.3" y1="1682.3" x2="1172.3" y2="1691.3" stroke="#000" stroke-width="3"/><line x1="1265" y1="1682.3" x2="1265" y2="1691.3" stroke="#000" stroke-width="3"/><line x1="1357" y1="1682.3" x2="1357" y2="1691.3" stroke="#000" stroke-width="3"/><line x1="1449" y1="1682.3" x2="1449" y2="1691.3" stroke="#000" stroke-width="3"/><line x1="1043.8" y1="1427.3" x2="1489.3" y2="1427.3" stroke="#000" stroke-width="3" stroke-linecap="round" stroke-dasharray="0 9.26"/><text transform="translate(968,1528.5) rotate(-90)" font-family='"Liberation Sans", sans-serif' font-size="25.2" font-weight="bold" text-anchor="middle">Relative cell viability (%)</text><text transform="translate(1089,1712.3) rotate(-45)" font-family='"Liberation Sans", sans-serif' font-size="24" font-weight="bold" text-anchor="end">Ven (1<tspan font-weight="normal" font-family='"Liberation Serif", serif'>&#956;</tspan>M)</text><text transform="translate(1181.3,1712.3) rotate(-45)" font-family='"Liberation Sans", sans-serif' font-size="24" font-weight="bold" text-anchor="end">I-BET151 (2<tspan font-weight="normal" font-family='"Liberation Serif", serif'>&#956;</tspan>M)</text><text transform="translate(1274,1712.3) rotate(-45)" font-family='"Liberation Sans", sans-serif' font-size="24" font-weight="bold" text-anchor="end">Ven+I-BET151</text><text transform="translate(1366,1712.3) rotate(-45)" font-family='"Liberation Sans", sans-serif' font-size="24" font-weight="bold" text-anchor="end">Sun (5<tspan font-weight="normal" font-family='"Liberation Serif", serif'>&#956;</tspan>M)</text><text transform="translate(1458,1712.3) rotate(-45)" font-family='"Liberation Sans", sans-serif' font-size="24" font-weight="bold" text-anchor="end">Ven+Sun</text>
<path d="M1080.7,1390 V1342.3 H1450 V1548.3" fill="none" stroke="#2a2a2a" stroke-width="2.2"/><polygon points="1242.65,1322.00 1244.03,1324.90 1247.22,1325.32 1244.88,1327.53 1245.47,1330.68 1242.65,1329.15 1239.83,1330.68 1240.42,1327.53 1238.08,1325.32 1241.27,1324.90" fill="#111"/><polygon points="1253.95,1322.00 1255.33,1324.90 1258.52,1325.32 1256.18,1327.53 1256.77,1330.68 1253.95,1329.15 1251.13,1330.68 1251.72,1327.53 1249.38,1325.32 1252.57,1324.90" fill="#111"/>
<path d="M1080.7,1390 V1379 H1265.7 V1530" fill="none" stroke="#2a2a2a" stroke-width="2.2"/><polygon points="1166.05,1360.30 1167.43,1363.20 1170.62,1363.62 1168.28,1365.83 1168.87,1368.98 1166.05,1367.45 1163.23,1368.98 1163.82,1365.83 1161.48,1363.62 1164.67,1363.20" fill="#111"/><polygon points="1177.35,1360.30 1178.73,1363.20 1181.92,1363.62 1179.58,1365.83 1180.17,1368.98 1177.35,1367.45 1174.53,1368.98 1175.12,1365.83 1172.78,1363.62 1175.97,1363.20" fill="#111"/>
<path d="M1172.7,1458.3 V1445 H1265.7 V1445" fill="none" stroke="#2a2a2a" stroke-width="2.2"/><polygon points="1213.30,1433.30 1214.68,1436.20 1217.87,1436.62 1215.53,1438.83 1216.12,1441.98 1213.30,1440.45 1210.48,1441.98 1211.07,1438.83 1208.73,1436.62 1211.92,1436.20" fill="#111"/>
<path d="M1357.7,1488.3 V1460.7 H1449.3 V1460.7" fill="none" stroke="#2a2a2a" stroke-width="2.2"/><polygon points="1401.00,1447.70 1402.38,1450.60 1405.57,1451.02 1403.23,1453.23 1403.82,1456.38 1401.00,1454.85 1398.18,1456.38 1398.77,1453.23 1396.43,1451.02 1399.62,1450.60" fill="#111"/>
<circle cx="1080.7" cy="1417.3" r="6.4" fill="none" stroke="#ff1a1a" stroke-width="1.8"/>
<circle cx="1080.7" cy="1433.3" r="6.4" fill="none" stroke="#ff1a1a" stroke-width="1.8"/>
<line x1="1049.7" y1="1425" x2="1111.7" y2="1425" stroke="#484848" stroke-width="2.3"/><path d="M1080.7,1416.7 V1432.3 M1075.5,1416.7 H1085.9 M1075.5,1432.3 H1085.9" fill="none" stroke="#1a1a1a" stroke-width="2.3"/>
<circle cx="1160" cy="1482.7" r="6.6" fill="#ffcc00"/>
<circle cx="1185" cy="1472.7" r="6.6" fill="#ffcc00"/>
<line x1="1141.5" y1="1477.7" x2="1203.5" y2="1477.7" stroke="#484848" stroke-width="2.3"/><path d="M1172.5,1473.3 V1482.7 M1167.3,1473.3 H1177.7 M1167.3,1482.7 H1177.7" fill="none" stroke="#1a1a1a" stroke-width="2.3"/>
<circle cx="1265" cy="1558.3" r="6" fill="#ffcc00" stroke="#ff1a1a" stroke-width="1.6"/>
<circle cx="1265" cy="1596" r="6" fill="#ffcc00" stroke="#ff1a1a" stroke-width="1.6"/>
<line x1="1234.0" y1="1577.3" x2="1296.0" y2="1577.3" stroke="#484848" stroke-width="2.3"/><path d="M1265,1558.3 V1596 M1259.8,1558.3 H1270.2 M1259.8,1596 H1270.2" fill="none" stroke="#1a1a1a" stroke-width="2.3"/>
<circle cx="1357.3" cy="1511.7" r="6.6" fill="#ff8000"/>
<circle cx="1357.3" cy="1531" r="6.6" fill="#ff8000"/>
<line x1="1326.3" y1="1520.7" x2="1388.3" y2="1520.7" stroke="#484848" stroke-width="2.3"/><path d="M1357.3,1511.7 V1531 M1352.1,1511.7 H1362.5 M1352.1,1531 H1362.5" fill="none" stroke="#1a1a1a" stroke-width="2.3"/>
<circle cx="1437.3" cy="1592.3" r="6" fill="#ff8000" stroke="#ff1a1a" stroke-width="1.6"/>
<circle cx="1461.7" cy="1590" r="6" fill="#ff8000" stroke="#ff1a1a" stroke-width="1.6"/>
<line x1="1418.0" y1="1591.7" x2="1480.0" y2="1591.7" stroke="#484848" stroke-width="2.3"/>
<text x="1263.7" y="1638.3" font-family='"Liberation Sans", sans-serif' font-size="22" font-weight="normal" text-anchor="middle" fill="#333"  style="">CI=0.32</text>
<text x="1448.3" y="1638.3" font-family='"Liberation Sans", sans-serif' font-size="22" font-weight="normal" text-anchor="middle" fill="#333"  style="">CI=0.56</text>
</svg></body></html>
